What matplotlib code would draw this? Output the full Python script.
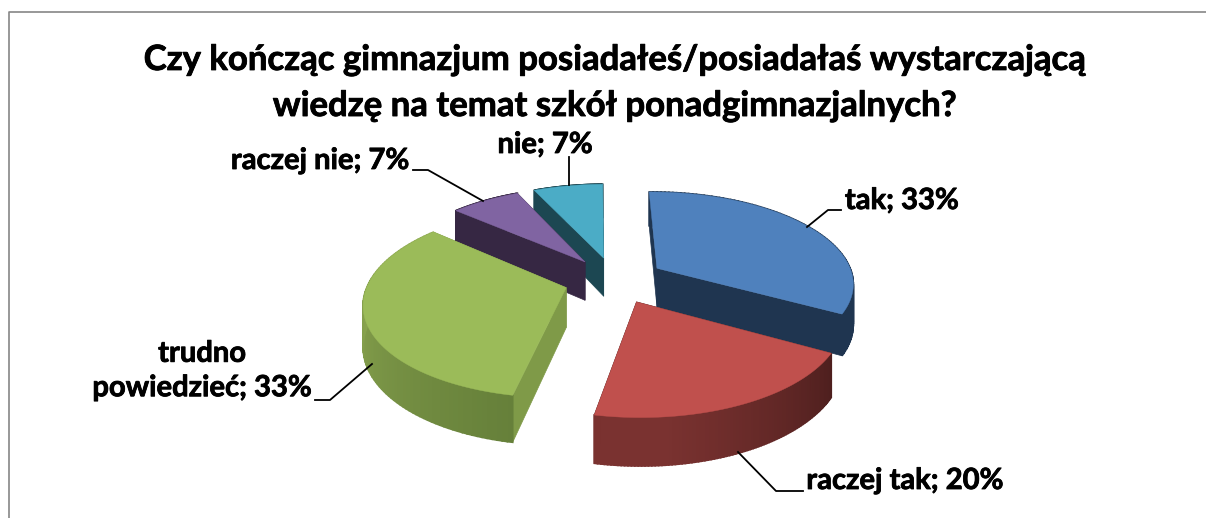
#plot.py

"""Exploded 3D-looking pie chart, drawn from polygons in a pixel sized axes."""

import numpy as np
from matplotlib import pyplot as plt
from matplotlib import patheffects as pe
from matplotlib.colors import to_rgb

title = "Czy kończąc gimnazjum posiadałeś/posiadałaś wystarczającą\nwiedzę na temat szkół ponadgimnazjalnych?"
categories = ["tak", "raczej tak", "trudno\npowiedzieć", "raczej nie", "nie"]
values = [33.3, 20.0, 33.3, 6.7, 6.7]

top_colors = ["#4f81bd", "#c0504d", "#9bbb59", "#8064a2", "#4bacc6"]
side_colors = ["#1f3550", "#4e1f1e", "#7f9a48", "#362743", "#1c4752"]
#Outer wall colors: at the first and the last angle of the shading
wall_start = ["#1f3550", "#4e1f1e", "#66803a", "#362743", "#1c4752"]
wall_end = ["#1f3550", "#7a3230", "#8da851", "#362743", "#1c4752"]

#Pie geometry in pixels
CX, CY = 614.5, 280.0
RX, RY = 197.0, 91.0
PERSP = 0.15
EXPLODE = 0.256
DEPTH = 39.5
START = np.radians(-0.8)

fig = plt.figure(figsize=(12.06, 5.18), dpi=100)
ax = fig.add_axes([0, 0, 1, 1])
ax.set_xlim(0, 1206)
ax.set_ylim(518, 0)
ax.axis("off")
plt.rcParams["font.family"] = ["Lato", "DejaVu Sans"]

def project(px, py):
    """Screen position and wall height of a point on the pie plane, y going to the back."""
    w = 1 + PERSP*py
    return CX + RX*px/w, CY - RY*py/w, DEPTH/w

def blend(c1, c2, t):
    c1, c2 = np.array(to_rgb(c1)), np.array(to_rgb(c2))
    return tuple(c1 + (c2 - c1)*t)

def draw_slice(i, start, stop, order):
    mid = (start + stop)/2
    ox, oy = EXPLODE*np.sin(mid), EXPLODE*np.cos(mid)
    angles = np.linspace(start, stop, 90)
    xs, ys, hs = project(ox + np.sin(angles), oy + np.cos(angles))
    ax0, ay0, ah0 = project(ox, oy)
    #Flat cut walls
    for j in (0, -1):
        ax.fill([ax0, xs[j], xs[j], ax0],
                [ay0, ys[j], ys[j]+hs[j], ay0+ah0],
                color=side_colors[i], lw=0.5, zorder=order)
    #Curved outer wall, in thin strips so that it can shade along the angle
    for j in range(len(angles)-1):
        t = min(1.0, j/(0.75*len(angles)))
        col = blend(wall_start[i], wall_end[i], t)
        ax.fill([xs[j], xs[j+1], xs[j+1], xs[j]],
                [ys[j], ys[j+1], ys[j+1]+hs[j+1], ys[j]+hs[j]],
                color=col, lw=1.2, zorder=order)
    #Top face
    ax.fill(np.r_[ax0, xs], np.r_[ay0, ys], color=top_colors[i], lw=0.3, zorder=order+0.5)

#Back slices first
draw_order = [3, 5, 4, 2, 1]
edges = START + np.r_[0, np.cumsum(values)]/np.sum(values)*2*np.pi
for i in range(len(values)):
    draw_slice(i, edges[i], edges[i+1], draw_order[i])

#Chart border, only the left and top edges show
ax.plot([9, 9, 1206], [518, 12, 12], color="#868686", lw=1.2, zorder=0)

bold = [pe.withStroke(linewidth=0.6, foreground="black")]
ax.text(615, 83, title, ha="center", va="center", fontsize=25, fontweight="bold",
        linespacing=1.54, color="black", path_effects=bold)

#Labels with their leader lines
labels = [f"{c}; {round(v)}%" for c, v in zip(categories, values)]
label_pos = [(902, 201), (905, 481), (202, 371), (320, 161), (545, 145)]
leaders = [([807, 828, 841], [227, 210, 210]),
           ([738, 776, 803], [452, 491, 491]),
           ([372, 330, 315], [364, 400, 400]),
           ([483, 428, 413], [201, 170, 170]),
           ([569, 569], [185, 157])]
for lab, pos, line in zip(labels, label_pos, leaders):
    ax.text(pos[0], pos[1], lab, ha="center", va="center", fontsize=21, fontweight="bold",
            linespacing=1.4, color="black", path_effects=bold)
    ax.plot(line[0], line[1], color="black", lw=1.3, zorder=6)

fig.savefig("out.png", dpi=100)
